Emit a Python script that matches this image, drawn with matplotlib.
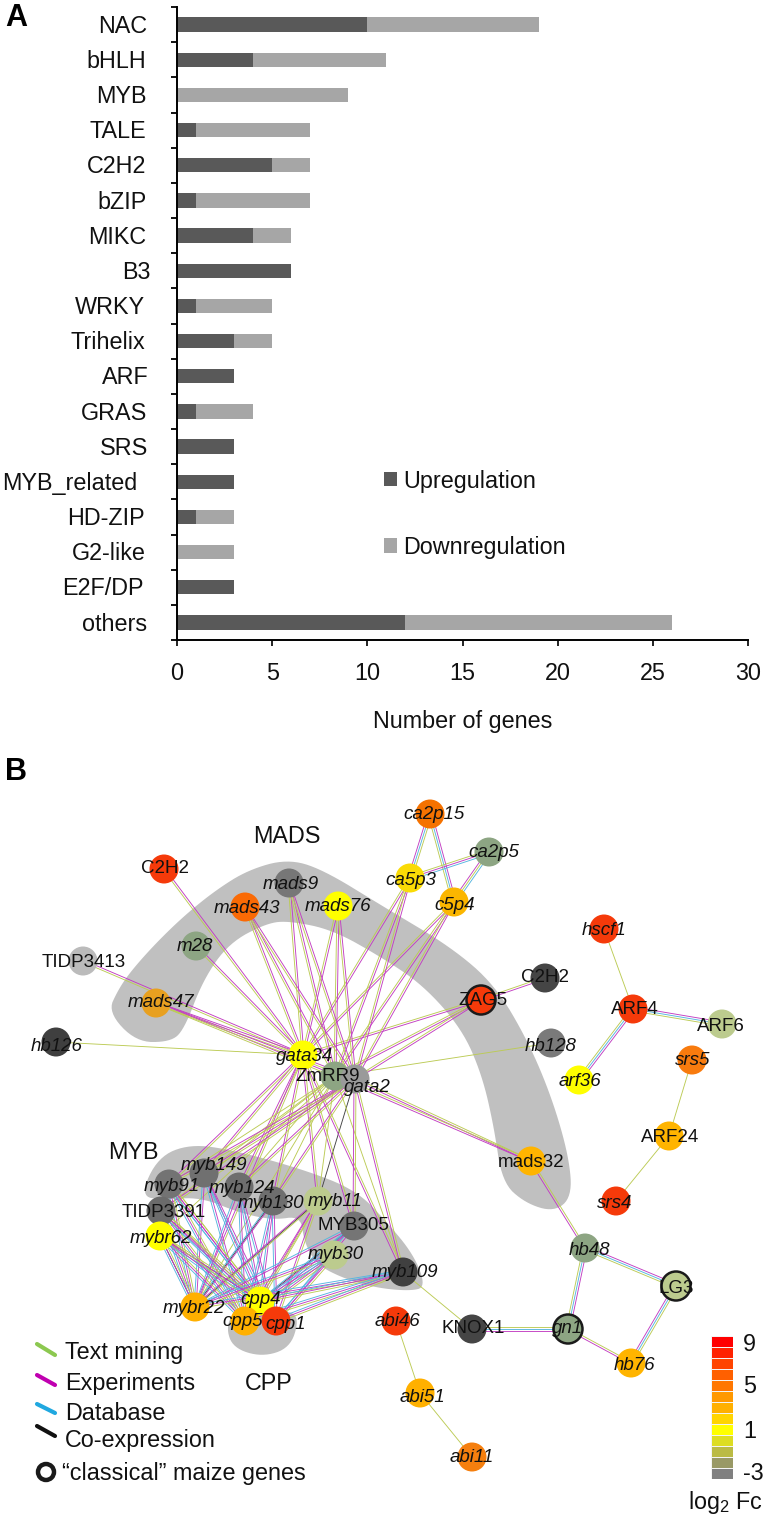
import numpy as np
import matplotlib
matplotlib.use('Agg')
import matplotlib.pyplot as plt
from matplotlib.colors import ListedColormap
from matplotlib.patches import Circle, Polygon, Rectangle

plt.rcParams['font.family'] = ['Liberation Sans', 'DejaVu Sans']
W, H = 764, 1521
FS = 16.8
FS_NODE = 13.5
TXT = '#111111'
DY = 1.5  # text sits a bit low in the original

# ---- panel A data
families = ['NAC', 'bHLH', 'MYB', 'TALE', 'C2H2', 'bZIP', 'MIKC', 'B3', 'WRKY', 'Trihelix',
            'ARF', 'GRAS', 'SRS', 'MYB_related', 'HD-ZIP', 'G2-like', 'E2F/DP', 'others']
up = [10, 4, 0, 1, 5, 1, 4, 6, 1, 3, 3, 1, 3, 3, 1, 0, 3, 12]
down = [9, 7, 9, 6, 2, 6, 2, 0, 4, 2, 0, 3, 0, 0, 2, 3, 0, 14]
# the labels are not quite right aligned in the original
label_right = [147, 146, 147, 146, 146, 147, 146, 150, 145, 145, 149, 147, 148, 137, 145, 146, 144, 147]
x_ticks = [0, 5, 10, 15, 20, 25, 30]
UP_COL = '#595959'
DOWN_COL = '#A6A6A6'

# ---- panel B data
node_ids = ['C2H2a', 'mads9', 'mads43', 'mads76', 'm28', 'TIDP3413', 'mads47', 'hb126', 'gata34', 'ZmRR9', 'gata2',
            'ca2p15', 'ca2p5', 'ca5p3', 'c5p4', 'hscf1', 'C2H2b', 'ZAG5', 'ARF4', 'ARF6', 'hb128', 'srs5', 'arf36',
            'ARF24', 'mads32', 'srs4', 'myb149', 'myb91', 'myb124', 'myb130', 'myb11', 'TIDP3391', 'MYB305', 'mybr62',
            'myb30', 'myb109', 'mybr22', 'cpp4', 'cpp5', 'cpp1', 'abi46', 'abi51', 'abi11', 'KNOX1', 'gn1', 'hb48',
            'LG3', 'hb76']
node_x = [164, 289, 245, 338, 196, 83, 156, 56, 303, 335, 355,
          430, 489, 410, 454, 604, 545, 481, 633, 722, 551, 692, 579,
          669, 531, 616, 204, 169, 239, 273, 318, 161, 354, 160,
          334, 403, 195, 260, 245, 276, 396, 420, 472, 472, 568, 585,
          676, 631]
node_y = [869, 883, 907, 906, 946, 961, 1003, 1042, 1055, 1076, 1079,
          814, 852, 878, 902, 929, 978, 1000, 1009, 1024, 1043, 1060, 1080,
          1136, 1161, 1201, 1173, 1184, 1187, 1201, 1201, 1211, 1226, 1236,
          1255, 1272, 1307, 1301, 1321, 1321, 1321, 1393, 1457, 1329, 1329, 1248,
          1286, 1363]
node_col = ['#F53A0A', '#777777', '#FA6A05', '#FFFF00', '#8DA583', '#BBBBBB', '#E8A020', '#3F3F3F', '#FFFF00', '#8DA583', '#9A9A9A',
            '#F57200', '#8DA583', '#FADB06', '#FBB600', '#F53A0A', '#454545', '#F53A0A', '#F53A0A', '#BCCB8E', '#7A7A7A', '#F87B0E', '#FFFF00',
            '#FFB400', '#FFB400', '#F53A0A', '#707070', '#737373', '#6E6E6E', '#6E6E6E', '#BCCB8E', '#6B6B6B', '#757575', '#FFFF00',
            '#BCCB8E', '#404040', '#FFB000', '#FFFF00', '#FFB000', '#F53A0A', '#F53A0A', '#FFB000', '#F57F0E', '#454545', '#8DA583', '#8DA583',
            '#BCCB8E', '#FFB400']
node_labels = ['C2H2', 'mads9', 'mads43', 'mads76', 'm28', 'TIDP3413', 'mads47', 'hb126', 'gata34', 'ZmRR9', 'gata2',
               'ca2p15', 'ca2p5', 'ca5p3', 'c5p4', 'hscf1', 'C2H2', 'ZAG5', 'ARF4', 'ARF6', 'hb128', 'srs5', 'arf36',
               'ARF24', 'mads32', 'srs4', 'myb149', 'myb91', 'myb124', 'myb130', 'myb11', 'TIDP3391', 'MYB305', 'mybr62',
               'myb30', 'myb109', 'mybr22', 'cpp4', 'cpp5', 'cpp1', 'abi46', 'abi51', 'abi11', 'KNOX1', 'gn1', 'hb48',
               'LG3', 'hb76']
label_x = [165, 291, 247, 338, 195, 84, 161, 57, 305, 328, 367,
           434, 494, 411, 455, 604, 545, 483, 635, 721, 551, 693, 580,
           670, 531, 615, 214, 172, 242, 271, 335, 164, 353, 161,
           336, 405, 194, 261, 243, 286, 397, 422, 472, 473, 568, 589,
           676, 634]
label_y = [867, 883, 907, 905, 945, 961, 1001, 1045, 1055, 1075, 1086,
           813, 851, 879, 904, 929, 976, 999, 1008, 1025, 1045, 1059, 1080,
           1136, 1161, 1202, 1164, 1185, 1187, 1202, 1200, 1211, 1224, 1237,
           1253, 1271, 1307, 1298, 1320, 1323, 1320, 1396, 1456, 1327, 1327, 1249,
           1287, 1364]
upright = ['C2H2a', 'C2H2b', 'TIDP3413', 'TIDP3391', 'ZmRR9', 'ZAG5', 'ARF4', 'ARF6', 'ARF24', 'mads32', 'MYB305', 'KNOX1', 'LG3']
classical = ['ZAG5', 'gn1', 'LG3']

# T text mining, E experiments, D database, C co-expression
EDGE_COL = {'T': '#BCCB55', 'E': '#C23EC2', 'D': '#55B5E0', 'C': '#444444'}
edges = [('ca2p15', 'ca5p3', 'TDE'), ('ca2p15', 'c5p4', 'EDT'), ('ca5p3', 'ca2p5', 'TED'), ('c5p4', 'ca2p5', 'ETD'),
         ('hscf1', 'ARF4', 'T'), ('ARF4', 'ARF6', 'EDT'), ('ARF4', 'arf36', 'EDT'), ('srs5', 'ARF24', 'T'),
         ('ARF24', 'srs4', 'T'), ('mads32', 'hb48', 'TE'), ('hb48', 'LG3', 'EDT'), ('hb48', 'gn1', 'EDT'),
         ('gn1', 'hb76', 'TE'), ('hb76', 'LG3', 'EDT'), ('KNOX1', 'gn1', 'TDE'), ('myb109', 'KNOX1', 'T'),
         ('abi46', 'abi51', 'T'), ('abi51', 'abi11', 'T'), ('ZAG5', 'C2H2b', 'TE'), ('gata34', 'hb126', 'T'),
         ('ZmRR9', 'hb128', 'T'), ('gata2', 'mads32', 'TE'), ('ZmRR9', 'mads32', 'TE'), ('gata2', 'myb11', 'C'),
         ('myb130', 'mybr22', 'C'), ('myb11', 'mybr22', 'C'), ('mybr62', 'cpp4', 'C'), ('mybr62', 'mybr22', 'C'),
         ('MYB305', 'cpp4', 'C')]
top_genes = ['C2H2a', 'mads9', 'mads43', 'mads76', 'm28', 'TIDP3413', 'mads47', 'ca5p3', 'c5p4', 'ZAG5']
hubs = ['gata34', 'ZmRR9', 'gata2']
myb_genes = ['myb149', 'myb91', 'myb124', 'myb130', 'myb11', 'TIDP3391', 'MYB305', 'mybr62', 'myb30', 'myb109']
mesh_kinds = ['ED', 'TED', 'ED', 'ED', 'TE', 'TED', 'ED', 'TED', 'TED', 'TED']
cpp_genes = ['mybr22', 'cpp4', 'cpp5', 'cpp1']
gata34_myb = ['myb149', 'myb91', 'myb124', 'myb130', 'myb11', 'myb109', 'MYB305', 'mybr22']
zmrr9_myb = ['myb149', 'myb91', 'myb124', 'myb130', 'TIDP3391', 'mybr62', 'mybr22', 'myb11', 'myb109']
gata2_myb = ['myb149', 'myb91', 'TIDP3391', 'myb130', 'MYB305', 'myb109', 'myb124']
for h in hubs:
    for g in top_genes:
        if h == 'gata34' or g not in ('TIDP3413', 'C2H2a', 'm28'):
            edges.append((h, g, 'TE'))
for g in gata34_myb:
    edges.append(('gata34', g, 'TE'))
for g in zmrr9_myb:
    edges.append(('ZmRR9', g, 'T'))
for g in gata2_myb:
    edges.append(('gata2', g, 'TE'))
for g, kinds in zip(myb_genes, mesh_kinds):
    for c in cpp_genes:
        edges.append((g, c, kinds))

# grey cluster shapes
mads_x = [108, 118, 131, 156, 185, 216, 248, 287, 322, 384, 451, 495, 528, 552, 569, 572, 554, 525, 502, 494, 482, 462, 423, 381, 333, 290, 267, 229, 203, 184, 170, 136]
mads_y = [1012, 990, 971, 943, 915, 890, 870, 859, 869, 907, 947, 985, 1041, 1098, 1157, 1197, 1212, 1203, 1182, 1127, 1075, 1029, 985, 957, 930, 921, 923, 943, 980, 1030, 1042, 1042]
myb_x = [140, 158, 190, 233, 302, 356, 386, 414, 426, 410, 377, 345, 317, 304, 301, 273, 240, 200, 163]
myb_y = [1196, 1157, 1144, 1150, 1169, 1190, 1221, 1255, 1287, 1291, 1288, 1279, 1265, 1242, 1216, 1220, 1213, 1197, 1200]
cpp_x = [226, 233, 262, 290, 299, 290, 235]
cpp_y = [1327, 1348, 1357, 1348, 1320, 1310, 1310]
BLOB = '#C0C0C0'

group_labels = ['MADS', 'MYB', 'CPP']
group_x = [287, 133, 269]
group_y = [835, 1151, 1382]

legend_names = ['Text mining', 'Experiments', 'Database', 'Co-expression']
legend_col = ['#8CC850', '#C000B0', '#20A8E0', '#111111']
legend_text_y = [1351, 1382, 1412, 1439]
legend_y0 = [1344, 1375, 1404, 1426]
legend_y1 = [1355, 1385, 1413, 1436]

scale_vals = [-3, -2, -1, 0, 1, 2, 3, 4, 5, 6, 7, 8, 9]
scale_cols = ['#808080', '#999966', '#BBBB44', '#DDDD22', '#FFFF00', '#FFD500', '#FFB000',
              '#FF9900', '#FF7700', '#FF6000', '#FF4400', '#FF2200', '#FF0000']
scale_labels = [9, 5, 1, -3]
scale_label_y = [1343, 1385, 1430, 1472]


def smooth(xs, ys, n=3):
    # corner cutting for the hand traced outlines
    p = np.column_stack([xs, ys]).astype(float)
    for _ in range(n):
        q = np.roll(p, -1, axis=0)
        p = np.column_stack([0.75 * p + 0.25 * q, 0.25 * p + 0.75 * q]).reshape(-1, 2)
    return p


fig = plt.figure(figsize=(W / 100, H / 100), dpi=100)

# ---- panel A
ax = fig.add_axes([177 / W, 1 - 640 / H, (748 - 177) / W, (640 - 7) / H])
pos = np.arange(len(families))
ax.barh(pos, up, height=0.41, color=UP_COL)
ax.barh(pos, down, left=up, height=0.41, color=DOWN_COL)
ax.set_xlim(0, 30)
ax.set_ylim(len(families) - 0.5, -0.5)
ax.spines['top'].set_visible(False)
ax.spines['right'].set_visible(False)
ax.spines['left'].set_linewidth(1.4)
ax.spines['bottom'].set_linewidth(1.4)
ax.set_yticks(np.arange(len(families) + 1) - 0.5)
ax.set_yticklabels([])
ax.set_xticks(x_ticks)
ax.tick_params(axis='both', length=4.6, width=1.3, direction='out')
ax.tick_params(axis='x', labelsize=FS, pad=11.5, colors=TXT)
ax.set_xlabel('Number of genes', fontsize=FS, labelpad=17.5, color=TXT)
for i, name in enumerate(families):
    ax.annotate(name, xy=(0, i), xytext=((label_right[i] - 177) * 0.72, -1.2), textcoords='offset points',
                ha='right', va='center', fontsize=FS, color=TXT)

# ---- everything else is laid out in image pixels
ov = fig.add_axes([0, 0, 1, 1], facecolor='none')
ov.set_xlim(0, W)
ov.set_ylim(H, 0)
ov.axis('off')

ov.text(5, 18, 'A', fontsize=22, fontweight='bold', va='center', ha='left', color='black')
ov.text(5, 772, 'B', fontsize=22, fontweight='bold', va='center', ha='left', color='black')

ov.add_patch(Rectangle((384, 472), 13, 14, color=UP_COL, lw=0))
ov.add_patch(Rectangle((384, 538), 13, 15, color=DOWN_COL, lw=0))
ov.text(403, 480 + DY, 'Upregulation', fontsize=FS, va='center', color=TXT)
ov.text(403, 546 + DY, 'Downregulation', fontsize=FS, va='center', color=TXT)

for xs, ys in [(mads_x, mads_y), (myb_x, myb_y), (cpp_x, cpp_y)]:
    ov.add_patch(Polygon(smooth(xs, ys), closed=True, fc=BLOB, ec='none', zorder=1))

xy = {n: (x, y) for n, x, y in zip(node_ids, node_x, node_y)}
for a, b, kinds in edges:
    p0 = np.array(xy[a], float)
    p1 = np.array(xy[b], float)
    d = p1 - p0
    nrm = np.array([-d[1], d[0]]) / np.hypot(*d)
    for k, kind in enumerate(kinds):
        off = (k - (len(kinds) - 1) / 2) * 2.0 * nrm
        ov.plot([p0[0] + off[0], p1[0] + off[0]], [p0[1] + off[1], p1[1] + off[1]],
                color=EDGE_COL[kind], lw=0.65, zorder=2, solid_capstyle='butt')

for n, x, y, c in zip(node_ids, node_x, node_y, node_col):
    ring = n in classical
    ov.add_patch(Circle((x, y), 14.5, fc=c, ec='#1A1A1A' if ring else 'none', lw=1.8 if ring else 0, zorder=3))
for n, s, x, y in zip(node_ids, node_labels, label_x, label_y):
    ov.text(x, y + DY, s, fontsize=FS_NODE, ha='center', va='center', color=TXT, zorder=4,
            style='normal' if n in upright else 'italic')

for s, x, y in zip(group_labels, group_x, group_y):
    ov.text(x, y + DY, s, fontsize=FS, ha='center', va='center', color=TXT, zorder=4)

for s, c, ty, y0, y1 in zip(legend_names, legend_col, legend_text_y, legend_y0, legend_y1):
    ov.plot([37, 55], [y0, y1], color=c, lw=3, solid_capstyle='round', zorder=4)
    ov.text(65, ty + DY, s, fontsize=FS, va='center', color=TXT, zorder=4)
ov.add_patch(Circle((46, 1472), 8, fc='white', ec='#1A1A1A', lw=3.2, zorder=4))
ov.text(62, 1472 + DY, '\u201cclassical\u201d maize genes', fontsize=FS, va='center', color=TXT, zorder=4)

# colour scale
cax = fig.add_axes([711 / W, 1 - 1479 / H, 22 / W, 143 / H])
cax.pcolormesh([0, 1], np.arange(len(scale_vals) + 1), np.array(scale_vals).reshape(-1, 1),
               cmap=ListedColormap(scale_cols), edgecolors='#F3F3F3', linewidth=0.4)
cax.axis('off')
for s, y in zip(scale_labels, scale_label_y):
    ov.text(743, y + DY, str(s), fontsize=FS, va='center', color=TXT, zorder=4)
plt.rcParams['mathtext.default'] = 'regular'
ov.text(726, 1503, 'log$_2$ Fc', fontsize=FS, ha='center', va='center', color=TXT, zorder=4)

fig.savefig('out.png', dpi=100)
